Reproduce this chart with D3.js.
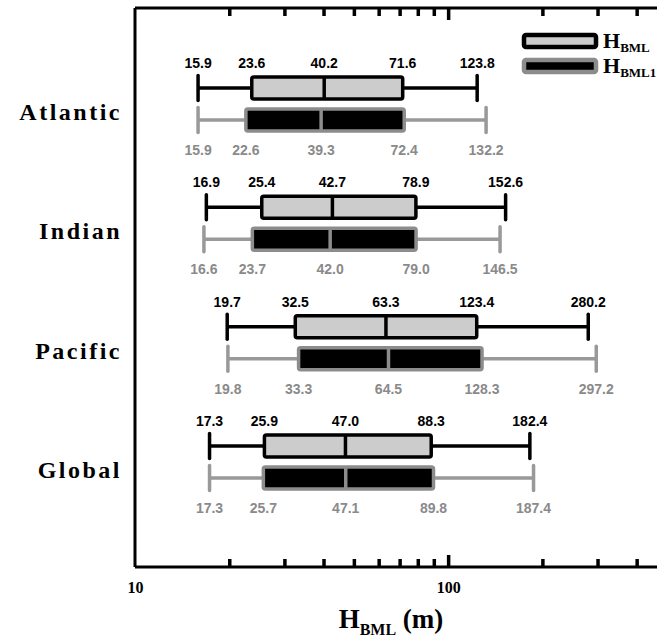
<!DOCTYPE html>
<html><head><meta charset="utf-8">
<script src="https://cdn.jsdelivr.net/npm/d3@7"></script>
<style>body{margin:0;background:#fff}svg{display:block}</style>
</head><body>
<script>
const categories = ["Atlantic", "Indian", "Pacific", "Global"];
const seriesNames = ["HBML", "HBML1"];
// [min, q1, median, q3, max]
const hbml = [
  [15.9, 23.6, 40.2, 71.6, 123.8],
  [16.9, 25.4, 42.7, 78.9, 152.6],
  [19.7, 32.5, 63.3, 123.4, 280.2],
  [17.3, 25.9, 47.0, 88.3, 182.4]
];
const hbml1 = [
  [15.9, 22.6, 39.3, 72.4, 132.2],
  [16.6, 23.7, 42.0, 79.0, 146.5],
  [19.8, 33.3, 64.5, 128.3, 297.2],
  [17.3, 25.7, 47.1, 89.8, 187.4]
];
const majorTicks = [10, 100];
const minorTicks = [20, 30, 40, 50, 60, 70, 80, 90, 200, 300, 400];

(function () {
const W = 657, H = 642;
const svg = d3.select("body").append("svg").attr("width", W).attr("height", H);
const pTop = 8, pBottom = 567, pLeft = 135, pRight = 667;
const x = d3.scaleLog().domain([10, 500]).range([pLeft, pRight]);
const yG = d3.scalePoint().domain(categories).range([104, 462]);
const yS = d3.scalePoint().domain(seriesNames).range([-16, 16]);

const styles = {
  HBML: {stroke: "#000", fill: "#cccccc", whisker: "#000", median: "#000", text: "#000", labelDy: -25},
  HBML1: {stroke: "#8c8c8c", fill: "#000", whisker: "#999", median: "#8c8c8c", text: "#8a8a8a", labelDy: 30}
};
const numFont = "'Liberation Sans', Arial, sans-serif";
const serif = "'Liberation Serif', 'Times New Roman', serif";
const boxH = 22;

function drawSeries(name, data) {
  const st = styles[name];
  categories.forEach((c, i) => {
    const d = data[i];
    const cy = yG(c) + yS(name);
    const g = svg.append("g");
    g.append("line").attr("x1", x(d[0])).attr("x2", x(d[1])).attr("y1", cy).attr("y2", cy)
      .attr("stroke", st.whisker).attr("stroke-width", 3.5);
    g.append("line").attr("x1", x(d[3])).attr("x2", x(d[4])).attr("y1", cy).attr("y2", cy)
      .attr("stroke", st.whisker).attr("stroke-width", 3.5);
    [d[0], d[4]].forEach(v => g.append("line").attr("x1", x(v)).attr("x2", x(v))
      .attr("y1", cy - 12.5).attr("y2", cy + 12.5).attr("stroke", st.whisker).attr("stroke-width", 3.5)
      .attr("stroke-linecap", "round"));
    g.append("rect").attr("x", x(d[1])).attr("width", x(d[3]) - x(d[1]))
      .attr("y", cy - boxH / 2).attr("height", boxH).attr("rx", 2)
      .attr("fill", st.fill).attr("stroke", st.stroke).attr("stroke-width", 3.5);
    g.append("line").attr("x1", x(d[2])).attr("x2", x(d[2]))
      .attr("y1", cy - boxH / 2).attr("y2", cy + boxH / 2)
      .attr("stroke", st.median).attr("stroke-width", 3.5);
    d.forEach(v => g.append("text").attr("x", x(v)).attr("y", cy + st.labelDy)
      .attr("text-anchor", "middle").attr("dominant-baseline", "central")
      .attr("font-family", numFont).attr("font-weight", "bold").attr("font-size", 14)
      .attr("fill", st.text).text(v.toFixed(1)));
  });
}
drawSeries("HBML", hbml);
drawSeries("HBML1", hbml1);

// category labels
categories.forEach(c => svg.append("text").attr("x", 122).attr("y", yG(c) + 8)
  .attr("text-anchor", "end").attr("dominant-baseline", "central")
  .attr("font-family", serif).attr("font-weight", "bold").attr("font-size", 24)
  .attr("letter-spacing", 2.5).text(c));

// frame
svg.append("line").attr("x1", pLeft).attr("x2", pLeft).attr("y1", pTop).attr("y2", pBottom)
  .attr("stroke", "#000").attr("stroke-width", 3);
svg.append("line").attr("x1", pLeft).attr("x2", W + 5).attr("y1", pTop).attr("y2", pTop)
  .attr("stroke", "#000").attr("stroke-width", 3);
svg.append("line").attr("x1", pLeft).attr("x2", W + 5).attr("y1", pBottom).attr("y2", pBottom)
  .attr("stroke", "#000").attr("stroke-width", 3);

// ticks (inward)
const axB = d3.axisBottom(x).tickValues(minorTicks).tickSize(-8).tickFormat("");
const axT = d3.axisTop(x).tickValues(minorTicks).tickSize(-8).tickFormat("");
const axBM = d3.axisBottom(x).tickValues(majorTicks).tickSize(-12).tickPadding(15).tickFormat(d3.format("d"));
const axTM = d3.axisTop(x).tickValues([100]).tickSize(-12).tickFormat("");
[svg.append("g").attr("transform", `translate(0,${pBottom})`).call(axB),
 svg.append("g").attr("transform", `translate(0,${pTop})`).call(axT),
 svg.append("g").attr("transform", `translate(0,${pBottom})`).call(axBM),
 svg.append("g").attr("transform", `translate(0,${pTop})`).call(axTM)].forEach(g => {
  g.select(".domain").remove();
  g.selectAll(".tick line").attr("stroke", "#000").attr("stroke-width", 3.5);
  g.selectAll(".tick text").attr("font-family", serif).attr("font-weight", "bold")
    .attr("font-size", 16).attr("fill", "#000");
});
svg.selectAll(".tick").filter(d => d === 10).select("line").remove();

// axis title
const t = svg.append("text").attr("x", 391).attr("y", 628).attr("text-anchor", "middle")
  .attr("font-family", serif).attr("font-weight", "bold").attr("font-size", 27);
t.append("tspan").text("H");
t.append("tspan").attr("font-size", 16).attr("dy", 7).text("BML");
t.append("tspan").attr("dy", -7).text(" (m)");

// legend
const leg = [
  {name: "H", sub: "BML", s: styles.HBML, y: 41},
  {name: "H", sub: "BML1", s: styles.HBML1, y: 66}
];
leg.forEach(l => {
  svg.append("rect").attr("x", 524).attr("y", l.y - 6).attr("width", 72).attr("height", 12).attr("rx", 2)
    .attr("fill", l.s.fill).attr("stroke", l.s.stroke).attr("stroke-width", 4.5);
  const tx = svg.append("text").attr("x", 603).attr("y", l.y + 7)
    .attr("font-family", serif).attr("font-weight", "bold").attr("font-size", 22);
  tx.append("tspan").text(l.name);
  tx.append("tspan").attr("font-size", 13).attr("dy", 4).text(l.sub);
});
})();
</script>
</body></html>
